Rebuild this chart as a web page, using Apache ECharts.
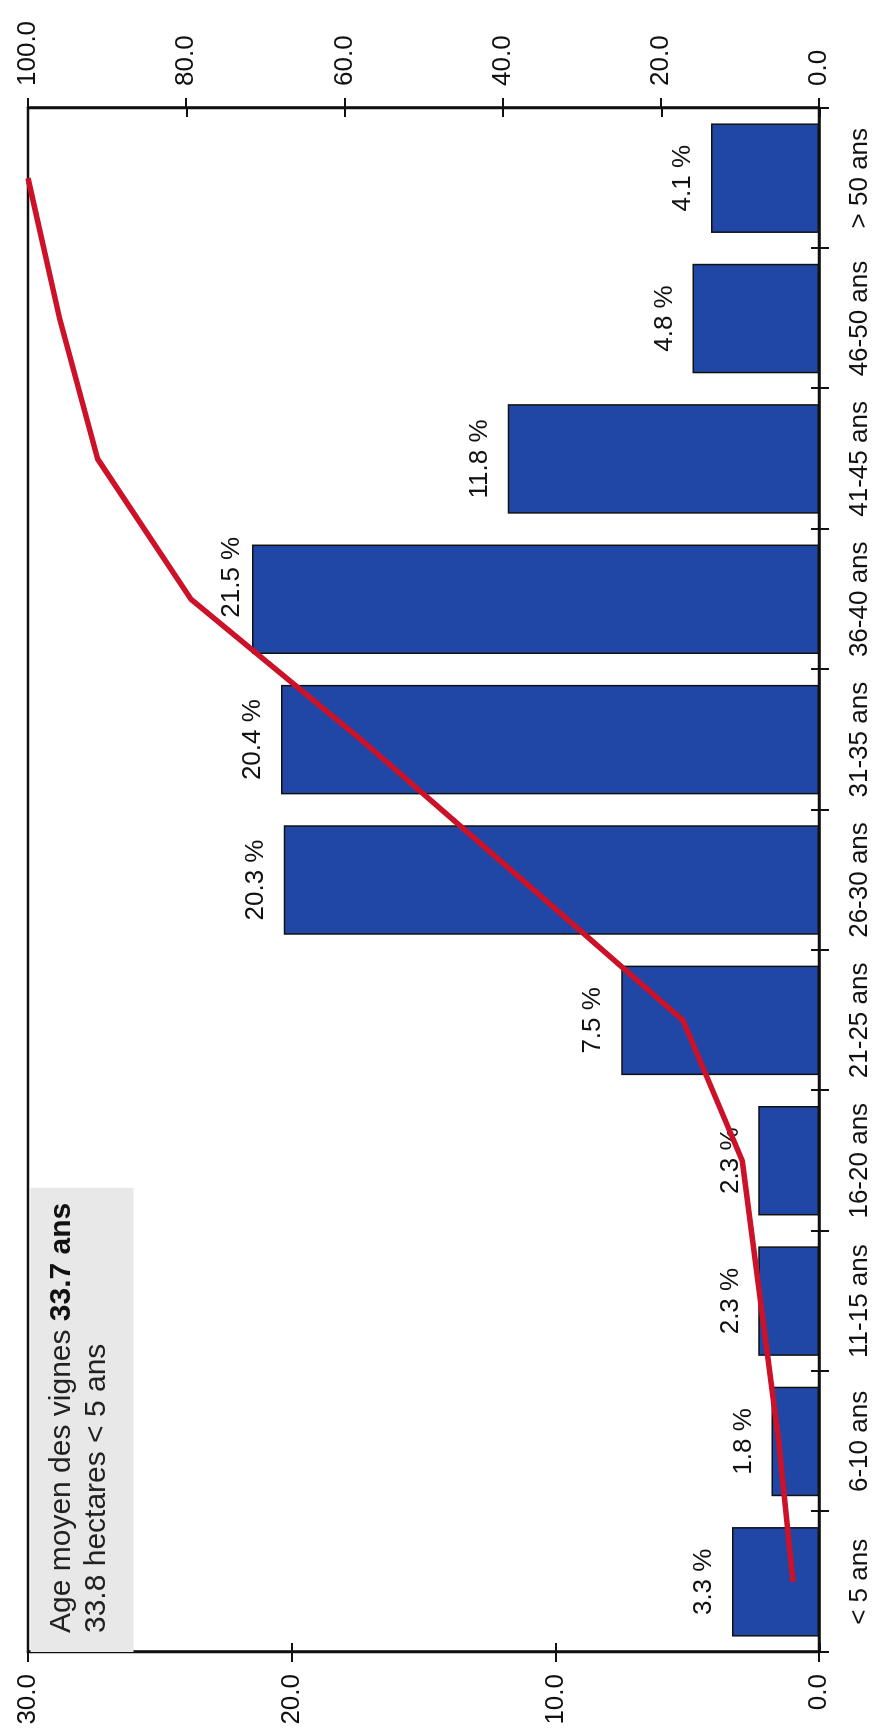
<!DOCTYPE html>
<html><head><meta charset="utf-8">
<script src="https://cdn.jsdelivr.net/npm/echarts@6/dist/echarts.min.js"></script>
<style>
html,body{margin:0;padding:0;width:873px;height:1734px;overflow:hidden;background:#fff;}
#chart{position:absolute;left:0;top:0;width:1734px;height:873px;transform-origin:0 0;transform:translateY(1734px) rotate(-90deg);}
</style></head><body><div id="chart"></div>
<script>
const categories = ['< 5 ans','6-10 ans','11-15 ans','16-20 ans','21-25 ans','26-30 ans','31-35 ans','36-40 ans','41-45 ans','46-50 ans','> 50 ans'];
const shares = [3.3, 1.8, 2.3, 2.3, 7.5, 20.3, 20.4, 21.5, 11.8, 4.8, 4.1];
const cumulative = [3.3, 5.1, 7.4, 9.7, 17.2, 37.5, 57.9, 79.4, 91.2, 96.0, 100.0];
const leftAxis = {min: 0, max: 30, interval: 10};
const rightAxis = {min: 0, max: 100, interval: 20};
const boxLine1 = 'Age moyen des vignes ';
const boxBold = '33.7 ans';
const boxLine2 = '33.8 hectares < 5 ans';

const FONT = '"Liberation Sans", Arial, Helvetica, sans-serif';
const INK = '#111';
const chart = echarts.init(document.getElementById('chart'), null, {renderer: 'canvas', width: 1734, height: 873});
const gridRect = {left: 82, right: 108, top: 28, bottom: 53};
const lineStyle = {color: INK, width: 2.5};
const fmt1 = v => Number(v).toFixed(1);

// the "36-40 ans" label sits shifted in the original, clear of the curve
const shiftedLabelCategory = '36-40 ans';
const barData = shares.map((v, i) => categories[i] === shiftedLabelCategory
  ? {value: v, label: {offset: [22, 8]}}
  : v);

const option = {
  backgroundColor: '#ffffff',
  animation: false,
  textStyle: {fontFamily: FONT},
  title: {
    text: '{a|' + boxLine1 + '}{b|' + boxBold + '}\n{a|' + boxLine2 + '}',
    left: 82, top: 28,
    padding: [16, 15, 22, 19],
    backgroundColor: '#e8e8e8',
    textStyle: {
      fontWeight: 'normal',
      rich: {
        a: {fontSize: 30, lineHeight: 35, color: '#222', fontWeight: 'normal', fontFamily: FONT},
        b: {fontSize: 30, lineHeight: 35, color: '#111', fontWeight: 'bold', fontFamily: FONT}
      }
    }
  },
  grid: [
    Object.assign({show: true, borderColor: INK, borderWidth: 2.5, backgroundColor: 'transparent'}, gridRect),
    Object.assign({show: false}, gridRect)
  ],
  xAxis: [
    {type: 'category', gridIndex: 0, data: categories,
     axisLine: {lineStyle: lineStyle},
     axisTick: {show: true, length: 10, lineStyle: {color: INK, width: 2}},
     axisLabel: {color: INK, fontSize: 26, margin: 28, interval: 0, fontFamily: FONT}},
    {type: 'category', gridIndex: 1, data: categories,
     axisLine: {show: false},
     axisTick: {show: true, inside: true, length: 9, lineStyle: {color: INK, width: 2}},
     axisLabel: {show: false}}
  ],
  yAxis: [
    {type: 'value', gridIndex: 0, position: 'left', min: leftAxis.min, max: leftAxis.max, interval: leftAxis.interval,
     axisLine: {show: true, lineStyle: lineStyle},
     axisTick: {show: true, length: 10, lineStyle: {color: INK, width: 2}},
     axisLabel: {formatter: fmt1, color: INK, fontSize: 26, margin: 22, fontFamily: FONT},
     splitLine: {show: false}},
    {type: 'value', gridIndex: 0, position: 'right', min: rightAxis.min, max: rightAxis.max, interval: rightAxis.interval,
     axisLine: {show: true, lineStyle: lineStyle},
     axisTick: {show: true, length: 10, lineStyle: {color: INK, width: 2}},
     axisLabel: {formatter: fmt1, color: INK, fontSize: 26, margin: 22, fontFamily: FONT},
     splitLine: {show: false}},
    {type: 'value', gridIndex: 1, position: 'left', min: leftAxis.min, max: leftAxis.max, interval: leftAxis.interval,
     axisLine: {show: false},
     axisTick: {show: true, inside: true, length: 9, lineStyle: {color: INK, width: 2}},
     axisLabel: {show: false}, splitLine: {show: false}},
    {type: 'value', gridIndex: 1, position: 'right', min: rightAxis.min, max: rightAxis.max, interval: rightAxis.interval,
     axisLine: {show: false},
     axisTick: {show: true, inside: true, length: 9, lineStyle: {color: INK, width: 2}},
     axisLabel: {show: false}, splitLine: {show: false}}
  ],
  series: [
    {type: 'bar', xAxisIndex: 0, yAxisIndex: 0, data: barData, barCategoryGap: '22%',
     itemStyle: {color: '#2147a6', borderColor: INK, borderWidth: 1.5},
     label: {show: true, position: 'top', distance: 15, formatter: p => fmt1(p.value) + ' %',
             fontSize: 26, color: INK, fontFamily: FONT}},
    {type: 'line', xAxisIndex: 0, yAxisIndex: 1, data: cumulative, symbol: 'none', showSymbol: false,
     lineStyle: {color: '#cc1229', width: 5.5}, z: 5}
  ]
};
chart.setOption(option);
</script></body></html>
